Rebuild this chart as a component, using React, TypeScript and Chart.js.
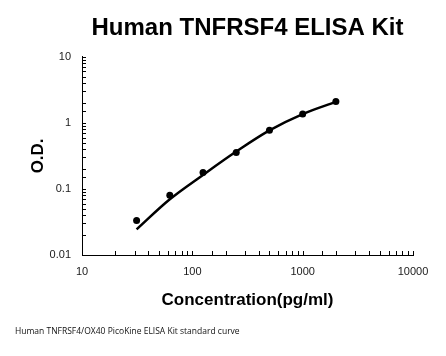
import React, { useEffect, useRef } from "react";
import { Chart, registerables } from "chart.js";

Chart.register(...registerables);

// Standard concentrations (pg/ml)
const concentrations = [31.25, 62.5, 125, 250, 500, 1000, 2000];
// Measured O.D. values (points)
const odMeasured = [0.0334, 0.0802, 0.1775, 0.357, 0.772, 1.365, 2.1];
// Fitted standard curve O.D. values at the same concentrations
const odFitted = [0.0244, 0.0697, 0.163, 0.368, 0.77, 1.36, 2.08];

const xTickLabels = ["10", "100", "1000", "10000"];
const yTickLabels = ["0.01", "0.1", "1", "10"];

const chartTitle = "Human TNFRSF4 ELISA Kit";
const xTitle = "Concentration(pg/ml)";
const yTitle = "O.D.";
const footnote = "Human TNFRSF4/OX40 PicoKine ELISA Kit standard curve";

const FONT = "'Liberation Sans', Arial, sans-serif";

const insideTicks = {
  id: "insideTicks",
  afterDraw(chart: any) {
    const ctx = chart.ctx;
    const { left, bottom } = chart.chartArea;
    ctx.save();
    ctx.strokeStyle = "#000";
    ctx.lineWidth = 1;
    const xs = chart.scales.x;
    xs.ticks.forEach((t: any) => {
      const px = Math.round(xs.getPixelForValue(t.value)) + 0.5;
      ctx.beginPath();
      ctx.moveTo(px, bottom);
      ctx.lineTo(px, bottom - 4);
      ctx.stroke();
    });
    const ys = chart.scales.y;
    ys.ticks.forEach((t: any) => {
      const py = Math.round(ys.getPixelForValue(t.value)) + 0.5;
      ctx.beginPath();
      ctx.moveTo(left, py);
      ctx.lineTo(left + 4, py);
      ctx.stroke();
    });
    // footnote
    ctx.fillStyle = "#111";
    ctx.font = "8.5px 'Open Sans', sans-serif";
    ctx.textAlign = "left";
    ctx.textBaseline = "middle";
    ctx.fillText(footnote, 15, 332);
    ctx.restore();
  },
};

function labelFor(list: string[]) {
  return (value: any) => {
    const s = String(Number(value));
    return list.includes(s) ? s : "";
  };
}

export default function App() {
  const ref = useRef<HTMLCanvasElement>(null);

  useEffect(() => {
    if (!ref.current) return;
    const chart = new Chart(ref.current, {
      type: "scatter",
      data: {
        datasets: [
          {
            label: "fit",
            data: concentrations.map((c, i) => ({ x: c, y: odFitted[i] })),
            showLine: true,
            borderColor: "#000",
            borderWidth: 2.5,
            pointRadius: 0,
            tension: 0.35,
          },
          {
            label: "standards",
            data: concentrations.map((c, i) => ({ x: c, y: odMeasured[i] })),
            showLine: false,
            pointRadius: 3.5,
            pointBackgroundColor: "#000",
            pointBorderColor: "#000",
            pointBorderWidth: 0,
          },
        ],
      },
      options: {
        responsive: false,
        maintainAspectRatio: false,
        animation: false,
        devicePixelRatio: 1,
        layout: { padding: { left: 0, right: 33, top: 0, bottom: 0 } },
        plugins: {
          legend: { display: false },
          tooltip: { enabled: false },
          title: {
            display: true,
            text: chartTitle,
            fullSize: false,
            color: "#000",
            font: { family: FONT, size: 24, weight: "bold" },
            padding: { top: 14, bottom: 14 },
          },
        },
        scales: {
          x: {
            type: "logarithmic",
            min: 10,
            max: 10000,
            afterFit: (s: any) => {
              s.height = 101;
            },
            grid: { display: false, drawTicks: false },
            border: { display: true, color: "#000", width: 1 },
            ticks: {
              autoSkip: false,
              maxRotation: 0,
              padding: 10,
              color: "#1a1a1a",
              font: { family: FONT, size: 11 },
              callback: labelFor(xTickLabels),
            },
            title: {
              display: true,
              text: xTitle,
              color: "#000",
              font: { family: FONT, size: 17, weight: "bold" },
              padding: { top: 0, bottom: 45 },
            },
          },
          y: {
            type: "logarithmic",
            min: 0.01,
            max: 10,
            afterFit: (s: any) => {
              s.width = 82;
            },
            grid: { display: false, drawTicks: false },
            border: { display: true, color: "#000", width: 1 },
            ticks: {
              autoSkip: false,
              padding: 11,
              color: "#1a1a1a",
              font: { family: FONT, size: 11 },
              callback: labelFor(yTickLabels),
            },
            title: {
              display: true,
              text: yTitle,
              color: "#000",
              font: { family: FONT, size: 17, weight: "bold" },
              padding: { top: 28, bottom: 0 },
            },
          },
        },
      },
      plugins: [insideTicks],
    } as any);
    return () => chart.destroy();
  }, []);

  return (
    <div style={{ position: "absolute", left: 0, top: 0, width: 446, height: 356, background: "#fff" }}>
      <canvas ref={ref} width={446} height={356} style={{ display: "block" }} />
    </div>
  );
}
